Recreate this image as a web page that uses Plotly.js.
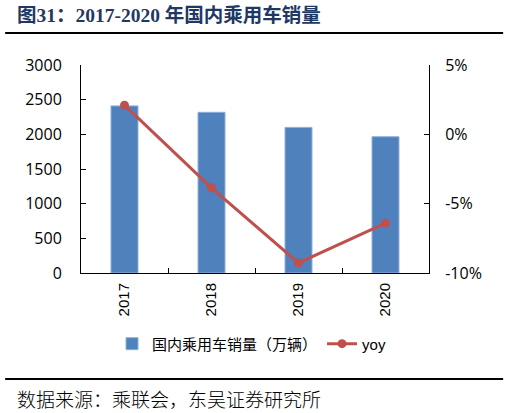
<!DOCTYPE html>
<html>
<head>
<meta charset="utf-8">
<script src="https://cdn.plot.ly/plotly-3.0.1.min.js"></script>
<style>
  html, body { margin: 0; padding: 0; background: #fff; }
  #chart { width: 509px; height: 413px; }
</style>
</head>
<body>
<div id="chart"></div>
<script>
// 国内乘用车销量 2017-2020
var years = ['2017', '2018', '2019', '2020'];
var sales = [2410, 2318, 2100, 1965];        // 万辆
var yoy = [0.021, -0.0386, -0.0927, -0.0641];
var yoyTicks = [-0.1, -0.05, 0, 0.05];
var yoyTickText = ['-10%', '-5%', '0%', '5%'];

var barTrace = {
  x: years,
  y: sales,
  type: 'bar',
  name: '国内乘用车销量（万辆）',
  marker: {color: '#4f81bd', line: {color: '#8eaedb', width: 1}},
  hoverinfo: 'skip'
};

var lineTrace = {
  x: years,
  y: yoy,
  type: 'scatter',
  mode: 'lines+markers',
  name: 'yoy',
  yaxis: 'y2',
  line: {color: '#c0504d', width: 3},
  marker: {color: '#c0504d', size: 9},
  hoverinfo: 'skip'
};

var tickFont = {family: 'Open Sans, DejaVu Sans, sans-serif', size: 16, color: '#000'};

var layout = {
  width: 509,
  height: 413,
  margin: {l: 81, r: 80, t: 65, b: 140},
  paper_bgcolor: '#fff',
  plot_bgcolor: '#fff',
  showlegend: true,
  bargap: 0.69,
  xaxis: {
    type: 'category',
    showline: true,
    linecolor: '#000',
    linewidth: 1,
    ticks: 'inside',
    tickson: 'boundaries',
    ticklen: 5,
    tickcolor: '#000',
    tickangle: -90,
    tickfont: {family: 'Liberation Sans, Arial, sans-serif', size: 15, color: '#000'},
    ticklabelstandoff: 3,
    showgrid: false,
    zeroline: false
  },
  yaxis: {
    range: [0, 3000],
    dtick: 500,
    showline: true,
    linecolor: '#000',
    linewidth: 1,
    ticks: 'inside',
    ticklen: 5,
    tickcolor: '#000',
    tickfont: tickFont,
    showgrid: false,
    zeroline: false,
    ticklabelstandoff: 15
  },
  yaxis2: {
    overlaying: 'y',
    side: 'right',
    range: [-0.1, 0.05],
    tickmode: 'array',
    tickvals: yoyTicks,
    ticktext: yoyTickText,
    showline: true,
    linecolor: '#000',
    linewidth: 1,
    ticks: 'inside',
    ticklen: 5,
    tickcolor: '#000',
    tickfont: tickFont,
    showgrid: false,
    zeroline: false,
    ticklabelstandoff: 12
  },
  legend: {
    orientation: 'h',
    x: 0.49,
    xanchor: 'center',
    y: -0.341,
    yanchor: 'middle',
    font: {family: 'Liberation Sans, Noto Sans CJK SC, sans-serif', size: 15, color: '#000'},
    itemwidth: 30,
    tracegroupgap: 0
  },
  shapes: [
    {type: 'line', xref: 'paper', yref: 'paper', x0: -0.218, x1: 1.213, y0: 1.154, y1: 1.154,
     line: {color: '#000', width: 2}},
    {type: 'line', xref: 'paper', yref: 'paper', x0: -0.218, x1: 1.213, y0: -0.5096, y1: -0.5096,
     line: {color: '#000', width: 2}}
  ],
  annotations: [
    {text: '<b>图31：2017-2020 年国内乘用车销量</b>', xref: 'paper', yref: 'paper',
     x: -0.19, y: 1.24, xanchor: 'left', yanchor: 'middle', showarrow: false,
     font: {family: 'Liberation Serif, Noto Sans CJK SC, serif', size: 19.5, color: '#1f3864'}},
    {text: '数据来源：乘联会，东吴证券研究所', xref: 'paper', yref: 'paper',
     x: -0.19, y: -0.601, xanchor: 'left', yanchor: 'middle', showarrow: false,
     font: {family: 'Noto Sans CJK SC, sans-serif', size: 19, weight: 300, color: '#000'}}
  ]
};

Plotly.newPlot('chart', [barTrace, lineTrace], layout, {displayModeBar: false, staticPlot: true});
</script>
</body>
</html>
